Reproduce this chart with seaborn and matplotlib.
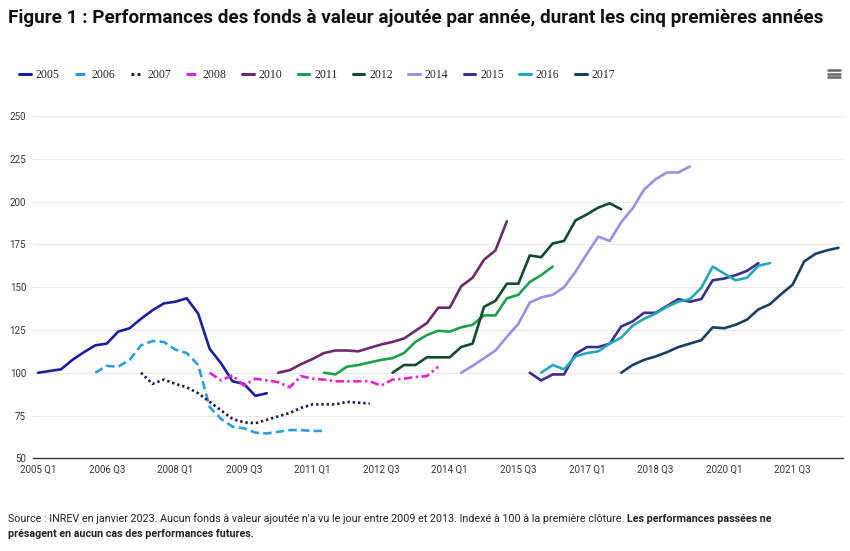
import numpy as np
import pandas as pd
import matplotlib
matplotlib.use("Agg")
import matplotlib.pyplot as plt
import seaborn as sns
from matplotlib.lines import Line2D

# ---------------- data ----------------
quarters = [f"{y} Q{q}" for y in range(2005, 2023) for q in range(1, 5)][:71]
tick_labels = ["2005 Q1", "2006 Q3", "2008 Q1", "2009 Q3", "2011 Q1", "2012 Q3",
               "2014 Q1", "2015 Q3", "2017 Q1", "2018 Q3", "2020 Q1", "2021 Q3"]
years = ["2005", "2006", "2007", "2008", "2010", "2011", "2012", "2014", "2015", "2016", "2017"]
start_quarter = ["2005 Q1", "2006 Q2", "2007 Q2", "2008 Q4", "2010 Q2", "2011 Q2",
                 "2012 Q4", "2014 Q2", "2015 Q4", "2016 Q1", "2017 Q4"]

v2005 = [100, 101, 102, 107.5, 112, 116, 117, 124, 126, 131.5, 136.5, 140.5, 141.5, 143.5,
         134.5, 114, 105.5, 95, 93.5, 86.5, 88]
v2006 = [100, 104, 103.5, 107.5, 116, 118.5, 118, 113.5, 111.5, 104.5, 80, 73, 68.5, 67.5,
         65, 64.5, 65.5, 66.5, 66.5, 66, 66]
v2007 = [100, 93.5, 96, 93.5, 91.5, 88, 83, 78, 73, 71, 70.5, 72.5, 74.5, 76.5, 79.5, 81.5,
         81.5, 81.5, 83, 82.5, 82]
v2008 = [100, 95.5, 98.5, 92.5, 96.5, 95.5, 94.5, 91.5, 98, 96.5, 96, 95, 95, 95, 95, 92.5,
         96, 96.5, 97.5, 98, 103.5]
v2010 = [100, 101.5, 105, 108, 111.5, 113, 113, 112.5, 114.5, 116.5, 118, 120, 124.5, 129,
         138, 138, 150.5, 155.5, 166, 171.5, 188.5]
v2011 = [100, 99, 103.5, 104.5, 106, 107.5, 108.5, 111.5, 118, 122, 124.5, 124, 126.5, 128,
         133.5, 133.5, 143.5, 145.5, 153, 157, 162]
v2012 = [100, 104.5, 104.5, 109, 109, 109, 115, 117, 138.5, 142, 152, 152, 168.5, 167.5,
         175.5, 177, 189, 192.5, 196.5, 199, 195.5]
v2014 = [100, 104, 108.5, 113, 121, 128.5, 141, 144, 145.5, 150, 159, 169.5, 179.5, 177, 188,
         196, 207, 213, 217, 217, 220.5]
v2015 = [100, 95.5, 99, 99, 111, 115, 115, 117, 127, 130, 135, 135, 139, 143, 141.5, 143, 154,
         155, 157, 159.5, 164]
v2016 = [100, 104.5, 102, 109.5, 111.5, 112.5, 117, 120.5, 127.5, 131.5, 134.5, 138.5, 141.5,
         143, 149.5, 162, 158, 154, 155.5, 162.5, 164]
v2017 = [100, 104.5, 107.5, 109.5, 112, 115, 117, 119, 126.5, 126, 128, 131, 137, 140, 146,
         151.5, 165, 169.5, 171.5, 173]
values = [v2005, v2006, v2007, v2008, v2010, v2011, v2012, v2014, v2015, v2016, v2017]

colors = ["#1a1f9c", "#2d9cdb", "#1c1a4e", "#e028c9", "#6a2a6c", "#1f9e4f", "#114a2f",
          "#9c8fe2", "#3b2e8e", "#24a7be", "#173f5f"]
dash_styles = ["", (3.2, 1.6), (0.9, 1.1), (3.2, 1.3, 0.9, 1.3), "", "", "", "", "", "", ""]

# ---------------- build table ----------------
rows = []
for yr, sq, vals in zip(years, start_quarter, values):
    s = quarters.index(sq)
    for k, v in enumerate(vals):
        rows.append({"year": yr, "qi": s + k, "value": v})
df = pd.DataFrame(rows)

sns.set_style("white")
plt.rcParams["font.family"] = ["Roboto", "DejaVu Sans"]

fig = plt.figure(figsize=(8.5, 5.51), dpi=100)
ax = fig.add_axes([33 / 850, 1 - 458.3 / 551, (843 - 33) / 850, (458.3 - 116) / 551])

sns.lineplot(data=df, x="qi", y="value", hue="year", style="year",
             palette=dict(zip(years, colors)), dashes=dict(zip(years, dash_styles)),
             hue_order=years, style_order=years,
             linewidth=1.9, ax=ax, estimator=None, sort=False, legend=True)

handles, labels = ax.get_legend_handles_labels()
ax.get_legend().remove()
for h in handles:
    h.set_linewidth(2.2)
fig.legend(handles, labels, loc="center left", bbox_to_anchor=(0.010, 0.864), ncol=11,
           frameon=False, handlelength=1.0, handletextpad=0.4, columnspacing=1.3,
           prop={"family": "Liberation Serif", "size": 8.5})

ax.set_xlim(-0.45, 70.4)
ax.set_ylim(50, 250)
ax.set_yticks(np.arange(50, 251, 25))
ax.set_xticks([quarters.index(t) for t in tick_labels])
ax.set_xticklabels(tick_labels)
ax.set_xlabel("")
ax.set_ylabel("")
ax.yaxis.grid(True, color="#e9e9e9", linewidth=0.9)
ax.xaxis.grid(False)
for s in ["top", "right", "left"]:
    ax.spines[s].set_visible(False)
ax.spines["bottom"].set_color("#333333")
ax.spines["bottom"].set_linewidth(1.0)
ax.tick_params(axis="both", length=0, labelsize=7, colors="#333333")
ax.tick_params(axis="y", pad=5)
ax.tick_params(axis="x", pad=4.5)
ax.set_axisbelow(True)

# title
fig.text(0.009, 0.967, "Figure 1 : Performances des fonds à valeur ajoutée par année, durant les cinq premières années",
         fontsize=13.6, fontweight="bold", va="center", ha="left", color="#111111")

# hamburger icon
for yy in [70, 73.5, 77]:
    fig.add_artist(Line2D([828 / 850, 840 / 850], [1 - yy / 551, 1 - yy / 551],
                          color="#666666", linewidth=1.8))

# footer
fs = 7.75
t1 = fig.text(0.009, 1 - 519 / 551,
              "Source : INREV en janvier 2023. Aucun fonds à valeur ajoutée n'a vu le jour entre 2009 et 2013. Indexé à 100 à la première clôture. ",
              fontsize=fs, va="center", ha="left", color="#222222")
fig.canvas.draw()
bb = t1.get_window_extent(renderer=fig.canvas.get_renderer())
fig.text(bb.x1 / fig.bbox.width, 1 - 519 / 551, "Les performances passées ne",
         fontsize=fs, fontweight="bold", va="center", ha="left", color="#222222")
fig.text(0.009, 1 - 534 / 551, "présagent en aucun cas des performances futures.",
         fontsize=fs, fontweight="bold", va="center", ha="left", color="#222222")

fig.savefig("out.png", dpi=100)
